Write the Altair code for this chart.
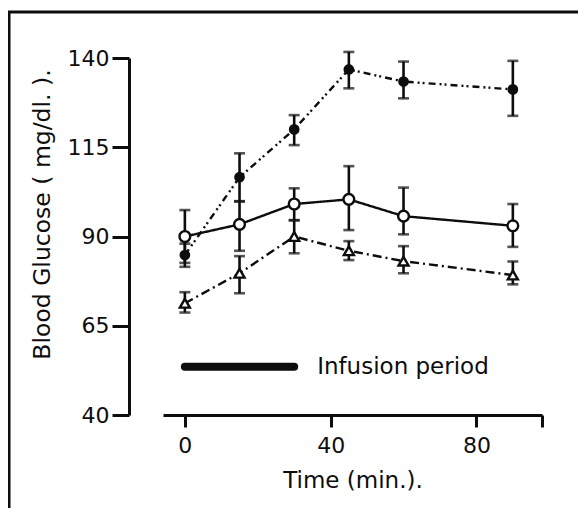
import altair as alt
import pandas as pd

# ---- data ----
times = [0, 15, 30, 45, 60, 90]

filled_mean = [84.8, 106.6, 120.0, 136.8, 133.4, 131.2]
filled_hi = [88.0, 113.3, 124.0, 141.7, 139.0, 139.2]
filled_lo = [81.5, 99.9, 115.6, 131.5, 128.7, 123.8]

open_mean = [90.0, 93.4, 99.1, 100.4, 95.7, 93.0]
open_hi = [97.4, 99.8, 103.5, 109.7, 103.7, 99.1]
open_lo = [82.6, 86.0, 94.6, 91.8, 90.6, 87.1]

tri_mean = [71.3, 79.7, 90.0, 86.0, 83.1, 79.2]
tri_hi = [74.4, 84.5, 94.5, 88.7, 87.3, 83.0]
tri_lo = [68.7, 74.1, 85.3, 83.4, 79.7, 76.6]

infusion_start = [0]
infusion_end = [30]
infusion_level = [53.5]
infusion_label = ["Infusion period"]
label_x = [36.3]

x_ticks = [0, 40, 80, 98]
y_ticks = [40, 65, 90, 115, 140]

INK = "#0d0d0d"
FONT = "DejaVu Sans"

def frame(mean, hi, lo):
    return pd.DataFrame({"t": times, "m": mean, "hi": hi, "lo": lo})

df_f = frame(filled_mean, filled_hi, filled_lo)
df_o = frame(open_mean, open_hi, open_lo)
df_t = frame(tri_mean, tri_hi, tri_lo)

xscale = alt.Scale(domain=[-6, 98], nice=False, zero=False)
yscale = alt.Scale(domain=[40, 140], nice=False, zero=False)

x_axis = alt.Axis(values=x_ticks, labelExpr="datum.value > 90 ? '' : datum.label",
                  tickSize=12, tickWidth=3, tickColor=INK, domainWidth=3, domainColor=INK,
                  labelFont=FONT, labelFontSize=22, labelColor=INK, labelPadding=8,
                  grid=False, title="Time (min.).", titleFont=FONT, titleFontSize=23,
                  titleFontWeight="normal", titleColor=INK, titlePadding=13)
y_axis = alt.Axis(values=y_ticks, offset=34, tickSize=17, tickWidth=3, tickColor=INK,
                  domainWidth=3, domainColor=INK, labelFont=FONT, labelFontSize=22,
                  labelColor=INK, labelPadding=3, grid=False,
                  title="Blood Glucose ( mg/dl. ).", titleFont=FONT, titleFontSize=23.5,
                  titleFontWeight="normal", titleColor=INK, titlePadding=13, titleY=156)

def X(field):
    return alt.X(f"{field}:Q", scale=xscale, axis=x_axis)

def Y(field):
    return alt.Y(f"{field}:Q", scale=yscale, axis=y_axis)

def series(df, dash, point_mark):
    line = alt.Chart(df).mark_line(color=INK, strokeWidth=2.4, strokeDash=dash).encode(
        x=X("t"), y=Y("m"))
    rule = alt.Chart(df).mark_rule(color=INK, strokeWidth=2.6).encode(
        x=X("t"), y=Y("lo"), y2="hi:Q")
    cap_hi = alt.Chart(df).mark_tick(color=INK, orient="horizontal", size=11, thickness=2.6).encode(
        x=X("t"), y=Y("hi"))
    cap_lo = alt.Chart(df).mark_tick(color=INK, orient="horizontal", size=11, thickness=2.6).encode(
        x=X("t"), y=Y("lo"))
    pts = alt.Chart(df).mark_point(**point_mark).encode(x=X("t"), y=Y("m"))
    return [line, rule, cap_hi, cap_lo], pts

layers_f, pts_f = series(df_f, [7, 4, 2, 3, 2, 4], dict(shape="circle", filled=True, color=INK, size=115, opacity=1))
layers_o, pts_o = series(df_o, [1, 0], dict(shape="circle", filled=True, fill="white", stroke=INK, strokeWidth=2.4, size=115, opacity=1))
layers_t, pts_t = series(df_t, [9, 4, 2, 4], dict(shape="triangle-up", filled=True, fill="white", stroke=INK, strokeWidth=2.4, size=100, opacity=1))

inf_df = pd.DataFrame({"a": infusion_start, "b": infusion_end, "y": infusion_level,
                       "lx": label_x, "label": infusion_label})
inf_bar = alt.Chart(inf_df).mark_rule(color=INK, strokeWidth=8, strokeCap="round").encode(
    x=X("a"), x2="b:Q", y=Y("y"))
inf_text = alt.Chart(inf_df).mark_text(font=FONT, fontSize=23, color=INK, align="left",
                                       baseline="middle").encode(
    x=X("lx"), y=Y("y"), text="label:N")

border_left = alt.Chart(inf_df).mark_rule(color=INK, strokeWidth=3).encode(
    x=alt.value(-154), y=alt.value(-46), y2=alt.value(460))
border_top = alt.Chart(inf_df).mark_rule(color=INK, strokeWidth=3).encode(
    x=alt.value(-156), x2=alt.value(430), y=alt.value(-46))

chart = alt.layer(
    *layers_f, *layers_o, *layers_t, pts_f, pts_o, pts_t, inf_bar, inf_text,
    border_left, border_top
).properties(
    width=379, height=357,
    autosize=alt.AutoSizeParams(type="none"),
    padding={"left": 155, "top": 50, "right": 36, "bottom": 93},
    background="white"
).configure_view(stroke=None)

chart.save("out.html", embed_options={"renderer": "svg", "actions": False})
